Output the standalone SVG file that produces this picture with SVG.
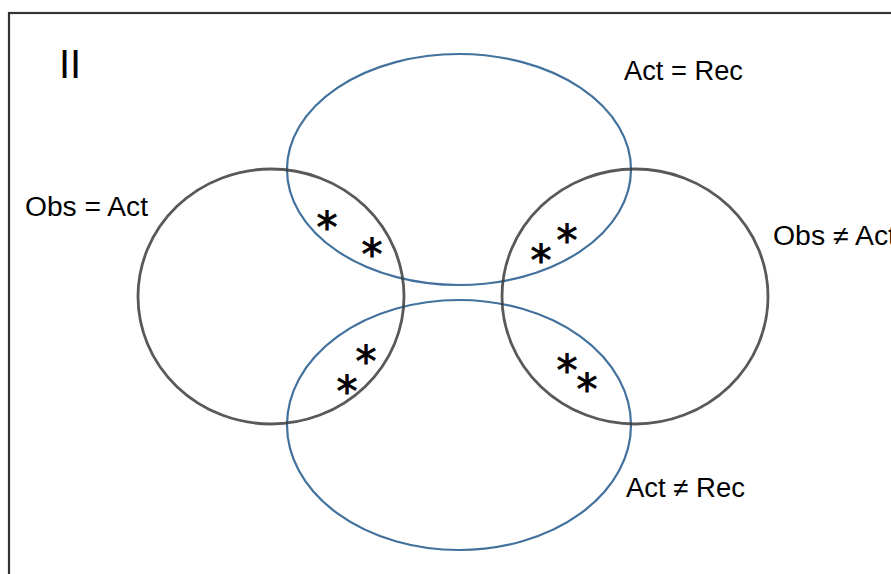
<svg xmlns="http://www.w3.org/2000/svg" width="891" height="574" viewBox="0 0 891 574">
<style>
.blue{fill:none;stroke:#41719c;stroke-width:2.2}
.gray{fill:none;stroke:#3c3c3c;stroke-width:2.8;stroke-opacity:0.85}
.lbl{font-family:"Liberation Sans",Arial,sans-serif;font-size:27px;fill:#000}
.ast{font-family:"DejaVu Sans",sans-serif;font-size:42px;fill:#000;stroke:#000;stroke-width:0.9;text-anchor:middle}
</style>
<rect width="891" height="574" fill="#fff"/>
<rect x="9" y="13" width="900" height="580" fill="none" stroke="#333" stroke-width="2.2"/>
<text class="lbl" x="59" y="78" style="font-size:40px">II</text>
<g id="act-eq-rec">
<ellipse class="blue" cx="459" cy="169.5" rx="172" ry="115.5"/>
<text class="lbl" x="624" y="80" textLength="119" lengthAdjust="spacingAndGlyphs">Act = Rec</text>
</g>
<g id="act-ne-rec">
<ellipse class="blue" cx="459" cy="425" rx="172" ry="125"/>
<text class="lbl" x="626" y="497" textLength="119" lengthAdjust="spacingAndGlyphs">Act ≠ Rec</text>
</g>
<g id="obs-eq-act">
<ellipse class="gray" cx="271" cy="296.5" rx="133" ry="127.5"/>
<text class="lbl" x="25" y="216" textLength="123" lengthAdjust="spacingAndGlyphs">Obs = Act</text>
</g>
<g id="obs-ne-act">
<ellipse class="gray" cx="635" cy="296.5" rx="133" ry="127.5"/>
<text class="lbl" x="773" y="245" textLength="123" lengthAdjust="spacingAndGlyphs">Obs ≠ Act</text>
</g>
<g id="asterisks">
<text class="ast" x="327" y="242">*</text>
<text class="ast" x="372" y="269">*</text>
<text class="ast" x="366" y="376">*</text>
<text class="ast" x="347" y="406">*</text>
<text class="ast" x="541" y="275">*</text>
<text class="ast" x="567" y="255">*</text>
<text class="ast" x="567" y="385">*</text>
<text class="ast" x="587" y="404">*</text>
</g>
</svg>
